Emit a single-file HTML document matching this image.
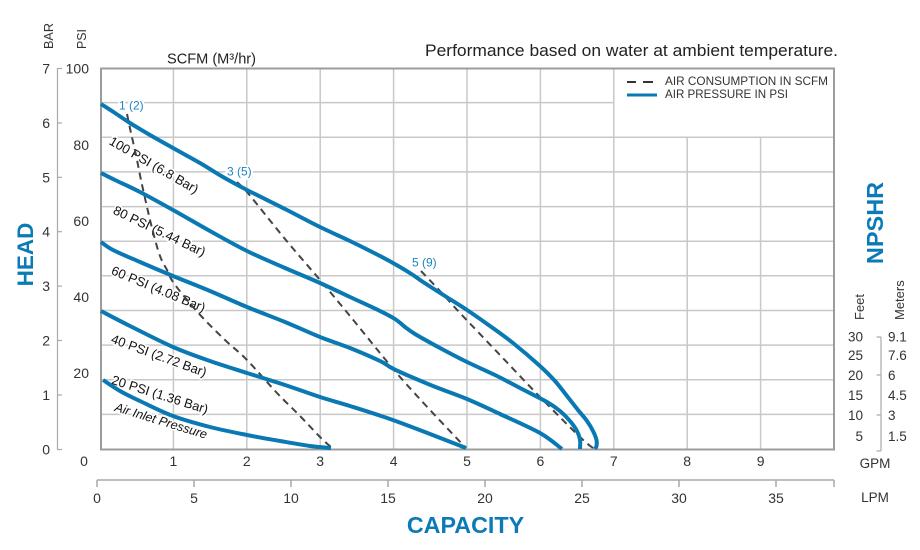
<!DOCTYPE html>
<html>
<head>
<meta charset="utf-8">
<style>
html,body{margin:0;padding:0;background:#fff;}
svg{display:block;}
text{font-family:"Liberation Sans",Arial,sans-serif;}
</style>
</head>
<body>
<svg id="chart" width="920" height="550" viewBox="0 0 920 550" xmlns="http://www.w3.org/2000/svg">
<rect x="0" y="0" width="920" height="550" fill="#fff"/>

<!-- Title -->
<text x="425" y="56" font-size="16.5" fill="#222" textLength="413" lengthAdjust="spacingAndGlyphs">Performance based on water at ambient temperature.</text>
<text x="167" y="63.5" font-size="14.5" fill="#222" textLength="89" lengthAdjust="spacingAndGlyphs">SCFM (M³/hr)</text>

<!-- Grid -->
<g stroke="#c8c8c8" stroke-width="1.5" fill="none">
  <line x1="173.4" y1="68" x2="173.4" y2="449"/>
  <line x1="246.8" y1="68" x2="246.8" y2="449"/>
  <line x1="320.2" y1="68" x2="320.2" y2="449"/>
  <line x1="393.6" y1="68" x2="393.6" y2="449"/>
  <line x1="467" y1="68" x2="467" y2="449"/>
  <line x1="540.4" y1="68" x2="540.4" y2="449"/>
  <line x1="613.8" y1="68" x2="613.8" y2="449"/>
  <line x1="687.2" y1="137.3" x2="687.2" y2="449"/>
  <line x1="760.6" y1="137.3" x2="760.6" y2="449"/>
  <line x1="101" y1="102.6" x2="613.8" y2="102.6"/>
  <line x1="101" y1="137.3" x2="834" y2="137.3"/>
  <line x1="101" y1="171.9" x2="834" y2="171.9"/>
  <line x1="101" y1="206.6" x2="834" y2="206.6"/>
  <line x1="101" y1="241.2" x2="834" y2="241.2"/>
  <line x1="101" y1="275.8" x2="834" y2="275.8"/>
  <line x1="101" y1="310.5" x2="834" y2="310.5"/>
  <line x1="101" y1="345.1" x2="834" y2="345.1"/>
  <line x1="101" y1="379.8" x2="834" y2="379.8"/>
  <line x1="101" y1="414.4" x2="834" y2="414.4"/>
</g>
<rect x="101" y="68.5" width="733" height="381" fill="none" stroke="#9c9c9c" stroke-width="2"/>

<!-- Legend -->
<g>
  <line x1="627" y1="82" x2="636" y2="82" stroke="#333" stroke-width="2"/>
  <line x1="643" y1="82" x2="653" y2="82" stroke="#333" stroke-width="2"/>
  <text x="665" y="85" font-size="12" fill="#333" textLength="163" lengthAdjust="spacingAndGlyphs">AIR CONSUMPTION IN SCFM</text>
  <line x1="627" y1="95" x2="657" y2="95" stroke="#0a79b3" stroke-width="3"/>
  <text x="665" y="98" font-size="12" fill="#333" textLength="123" lengthAdjust="spacingAndGlyphs">AIR PRESSURE IN PSI</text>
</g>

<!-- Left axes -->
<text transform="translate(53,49) rotate(-90)" font-size="13" fill="#333" textLength="26" lengthAdjust="spacingAndGlyphs">BAR</text>
<text transform="translate(86,49) rotate(-90)" font-size="13" fill="#333" textLength="20" lengthAdjust="spacingAndGlyphs">PSI</text>
<line x1="57.5" y1="68" x2="57.5" y2="450" stroke="#aaa" stroke-width="1.2"/>
<g stroke="#aaa" stroke-width="1.2">
  <line x1="57.5" y1="68.5" x2="62" y2="68.5"/>
  <line x1="57.5" y1="123" x2="62" y2="123"/>
  <line x1="57.5" y1="177.3" x2="62" y2="177.3"/>
  <line x1="57.5" y1="231.7" x2="62" y2="231.7"/>
  <line x1="57.5" y1="286.1" x2="62" y2="286.1"/>
  <line x1="57.5" y1="340.5" x2="62" y2="340.5"/>
  <line x1="57.5" y1="395" x2="62" y2="395"/>
  <line x1="57.5" y1="449.5" x2="62" y2="449.5"/>
</g>
<g font-size="14" fill="#333" text-anchor="end">
  <text x="50" y="73.5">7</text>
  <text x="50" y="128">6</text>
  <text x="50" y="182.3">5</text>
  <text x="50" y="236.7">4</text>
  <text x="50" y="291.1">3</text>
  <text x="50" y="345.5">2</text>
  <text x="50" y="400">1</text>
  <text x="50" y="454.5">0</text>
  <text x="89" y="73.5">100</text>
  <text x="89" y="150">80</text>
  <text x="89" y="226">60</text>
  <text x="89" y="302">40</text>
  <text x="89" y="378">20</text>
</g>
<text transform="translate(33,254.5) rotate(-90)" text-anchor="middle" font-size="22.5" font-weight="bold" fill="#0b7bb8">HEAD</text>

<!-- Right axes -->
<text transform="translate(883,223) rotate(-90)" text-anchor="middle" font-size="23.5" font-weight="bold" fill="#0b7bb8">NPSHR</text>
<text transform="translate(864,320) rotate(-90)" font-size="13" fill="#333">Feet</text>
<text transform="translate(904,320) rotate(-90)" font-size="13" fill="#333">Meters</text>
<g font-size="13.5" fill="#333">
  <text x="863" y="341.5" text-anchor="end">30</text>
  <text x="863" y="360" text-anchor="end">25</text>
  <text x="863" y="380" text-anchor="end">20</text>
  <text x="863" y="400" text-anchor="end">15</text>
  <text x="863" y="420" text-anchor="end">10</text>
  <text x="863" y="441" text-anchor="end">5</text>
  <text x="888" y="341.5">9.1</text>
  <text x="888" y="360">7.6</text>
  <text x="888" y="380">6</text>
  <text x="888" y="400">4.5</text>
  <text x="888" y="420">3</text>
  <text x="888" y="441">1.5</text>
</g>
<g stroke="#aaa" stroke-width="1.2">
  <line x1="881" y1="337" x2="881" y2="451"/>
  <line x1="876.5" y1="337" x2="881" y2="337"/>
  <line x1="876.5" y1="375" x2="881" y2="375"/>
  <line x1="876.5" y1="415" x2="881" y2="415"/>
  <line x1="876.5" y1="451" x2="881" y2="451"/>
</g>

<!-- GPM axis labels -->
<g font-size="14" fill="#333" text-anchor="middle">
  <text x="84" y="466">0</text>
  <text x="173.4" y="466">1</text>
  <text x="246.8" y="466">2</text>
  <text x="320.2" y="466">3</text>
  <text x="393.6" y="466">4</text>
  <text x="467" y="466">5</text>
  <text x="540.4" y="466">6</text>
  <text x="613.8" y="466">7</text>
  <text x="687.2" y="466">8</text>
  <text x="760.6" y="466">9</text>
</g>
<text x="875" y="468" text-anchor="middle" font-size="13.5" fill="#333">GPM</text>

<!-- LPM axis -->
<g stroke="#a8a8a8" stroke-width="1.5">
  <line x1="97" y1="480" x2="834" y2="480"/>
  <line x1="97" y1="480" x2="97" y2="487"/>
  <line x1="194" y1="480" x2="194" y2="487"/>
  <line x1="291" y1="480" x2="291" y2="487"/>
  <line x1="388" y1="480" x2="388" y2="487"/>
  <line x1="485" y1="480" x2="485" y2="487"/>
  <line x1="582" y1="480" x2="582" y2="487"/>
  <line x1="679" y1="480" x2="679" y2="487"/>
  <line x1="776" y1="480" x2="776" y2="487"/>
  <line x1="834" y1="480" x2="834" y2="487"/>
</g>
<g font-size="14" fill="#333" text-anchor="middle">
  <text x="97" y="503">0</text>
  <text x="194" y="503">5</text>
  <text x="291" y="503">10</text>
  <text x="388" y="503">15</text>
  <text x="485" y="503">20</text>
  <text x="582" y="503">25</text>
  <text x="679" y="503">30</text>
  <text x="776" y="503">35</text>
</g>
<text x="875" y="502" text-anchor="middle" font-size="13.5" fill="#333">LPM</text>
<text x="465.5" y="533" text-anchor="middle" font-size="23.3" font-weight="bold" fill="#0b7bb8">CAPACITY</text>

<!-- Curve labels -->
<g font-size="13" fill="#111" stroke="#fff" stroke-width="3" paint-order="stroke" text-anchor="middle" dominant-baseline="central">
  <text x="154" y="165" transform="rotate(30 154 165)">100 PSI (6.8 Bar)</text>
  <text x="159.5" y="231" transform="rotate(25.5 159.5 231)">80 PSI (5.44 Bar)</text>
  <text x="158.5" y="289" transform="rotate(22.5 158.5 289)">60 PSI (4.08 Bar)</text>
  <text x="159" y="355.5" transform="rotate(20 159 355.5)">40 PSI (2.72 Bar)</text>
  <text x="160" y="394.5" transform="rotate(17.5 160 394.5)">20 PSI (1.36 Bar)</text>
  <text x="161" y="421" transform="rotate(17 161 421)" font-style="italic" font-size="12.5">Air Inlet Pressure</text>
</g>
<g font-size="12" fill="#1a86c2" stroke="#fff" stroke-width="4" paint-order="stroke">
  <text x="119" y="109.5">1 (2)</text>
  <text x="227" y="175.5">3 (5)</text>
  <text x="412" y="266.5">5 (9)</text>
</g>

<!-- Air consumption dashed lines -->
<g fill="none" stroke="#444" stroke-width="2" stroke-dasharray="7,5" stroke-linejoin="round">
  <polyline class="s" points="127,114 131,133 136,155 141,180 147,207 153,232 160,256 167,270 173,282 188,301 203,318 225,340 247,360 277,393 300,416 320,437 332,448"/>
  <polyline class="s" points="237,182 247,192 268,218 290,245 320,280 350,316 380,353 400,377 430,410 466,448"/>
  <polyline class="s" points="421,271 440,291 460,313 500,355 540,397 580,437 593,448"/>
</g>

<!-- Air pressure curves -->
<g fill="none" stroke="#0a79b3" stroke-width="4" stroke-linejoin="round" stroke-linecap="butt">
  <polyline class="s" points="101,104 115,113 130,123 150,135 173,148 200,163 223,177 247,190 285,209 320,227 350,241 380,256 400,267 413,275 423,282 445,296 467,310 490,326 513,343 540,366 555,381 567,396 578,410 587,421 593,431 596.5,440 596.5,446 595,449"/>
  <polyline class="s" points="101,173 115,180 140,192 173,210 210,231 247,251 285,268 320,283 350,297 380,311 395,319 405,327 415,334 440,348 467,362 495,375 520,388 547,402 560,411 570,421 577,431 580,440 580,449"/>
  <polyline class="s" points="101,242 113,250 140,262 173,276 210,291 247,307 285,322 320,337 350,348 380,361 390,367 400,372 433,386 467,399 500,414 540,433 562,449"/>
  <polyline class="s" points="101,311 130,326 173,347 210,361 247,373 285,385 320,397 350,406 390,419 430,434 466,448"/>
  <polyline class="s" points="103,380 120,391 140,401 173,416 210,427 247,435 280,441 310,446 331,448"/>
</g>
</svg>
<script>
(function(){
  var pls = document.querySelectorAll('polyline.s');
  for (var k = 0; k < pls.length; k++) {
    var pl = pls[k];
    var pts = pl.getAttribute('points').trim().split(/\s+/).map(function(s){var a=s.split(',');return [+a[0],+a[1]];});
    var d = 'M' + pts[0][0] + ',' + pts[0][1];
    for (var i = 0; i < pts.length - 1; i++) {
      var p0 = pts[i-1] || pts[i], p1 = pts[i], p2 = pts[i+1], p3 = pts[i+2] || pts[i+1];
      var c1x = p1[0] + (p2[0]-p0[0])/6, c1y = p1[1] + (p2[1]-p0[1])/6;
      var c2x = p2[0] - (p3[0]-p1[0])/6, c2y = p2[1] - (p3[1]-p1[1])/6;
      d += ' C' + c1x.toFixed(2) + ',' + c1y.toFixed(2) + ' ' + c2x.toFixed(2) + ',' + c2y.toFixed(2) + ' ' + p2[0] + ',' + p2[1];
    }
    var path = document.createElementNS('http://www.w3.org/2000/svg','path');
    path.setAttribute('d', d);
    pl.parentNode.replaceChild(path, pl);
  }
})();
</script>
</body>
</html>
